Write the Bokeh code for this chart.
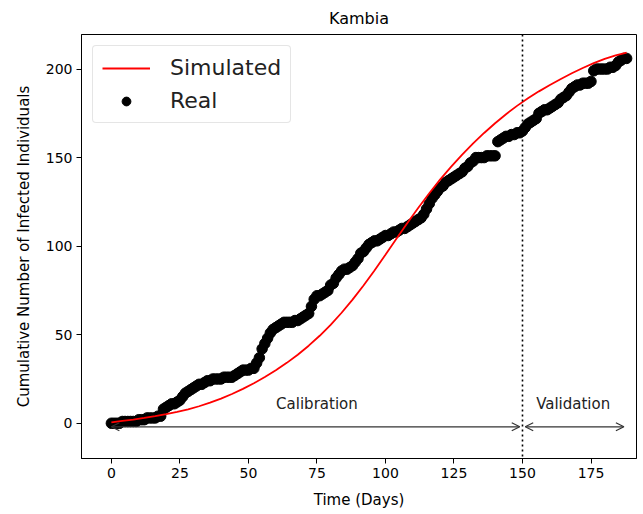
from bokeh.plotting import figure
from bokeh.models import (Range1d, Span, Arrow, OpenHead, Label, Legend, LegendItem,
                          FixedTicker, ColumnDataSource)
from bokeh.embed import file_html
from bokeh.resources import INLINE

# ---------------- data ----------------
real_days = list(range(0, 189))
real_cases = [
    0, 0, 0, 0, 1, 1, 1, 1, 1, 1,
    2, 2, 2, 3, 3, 3, 3, 4, 4, 8,
    9, 10, 11, 11, 12, 13, 15, 17, 18, 19,
    20, 21, 22, 22, 23, 24, 24, 25, 25, 25,
    25, 26, 26, 26, 26, 27, 28, 29, 30, 30,
    30, 31, 31, 34, 37, 42, 45, 48, 51, 53,
    54, 55, 56, 57, 57, 57, 57, 58, 58, 59,
    60, 61, 62, 66, 70, 72, 72, 73, 74, 75,
    78, 79, 82, 84, 86, 87, 87, 88, 89, 91,
    93, 96, 97, 99, 101, 102, 103, 103, 104, 105,
    106, 106, 107, 108, 108, 109, 110, 110, 111, 112,
    113, 114, 115, 116, 118, 121, 124, 127, 129, 131,
    133, 134, 136, 137, 138, 139, 140, 141, 142, 144,
    145, 147, 148, 150, 150, 150, 150, 151, 151, 151,
    151, 159, 160, 161, 162, 162, 163, 163, 164, 164,
    165, 167, 169, 170, 171, 172, 175, 176, 177, 177,
    178, 179, 180, 181, 183, 184, 185, 187, 189, 190,
    191, 191, 192, 192, 192, 193, 199, 200, 200, 200,
    200, 200, 201, 201, 202, 204, 205, 206, 206,
]

sim_days = list(range(0, 189, 4))
sim_cases = [
    0.5, 1.3, 2.1, 3.0, 4.0, 5.1, 6.4, 7.9, 9.6, 11.6,
    13.9, 16.5, 19.4, 22.6, 26.1, 29.9, 34.1, 38.7, 43.8, 49.4,
    55.6, 62.4, 69.8, 77.8, 86.3, 95.2, 104.2, 113.1, 121.7, 129.9,
    137.7, 144.9, 151.7, 158.0, 163.9, 169.4, 174.5, 179.2, 183.5, 187.4,
    191.0, 194.4, 197.6, 200.6, 203.3, 205.7, 207.7, 209.3,
]

split_day = 150
calib_arrow = [0, 149]      # start/end day of calibration arrow
valid_arrow = [151, 187]    # start/end day of validation arrow
arrow_level = -2
phase_labels = ["Calibration", "Validation"]
phase_label_level = 10.7

x_ticks = [0, 25, 50, 75, 100, 125, 150, 175]
y_ticks = [0, 50, 100, 150, 200]

FONT = "DejaVu Sans"

# ---------------- figure ----------------
p = figure(width=638, height=512, output_backend="svg", toolbar_location=None,
           x_range=Range1d(-10.9, 191.6), y_range=Range1d(-19.9, 219.5),
           min_border_left=81, min_border_right=2, min_border_top=33,
           min_border_bottom=54)

p.title.text = "Kambia"
p.title.align = "center"
p.title.text_font = FONT
p.title.text_font_size = "16px"
p.title.text_font_style = "normal"
p.title.text_color = "black"
p.title.standoff = 13

p.xgrid.visible = False
p.ygrid.visible = False
p.outline_line_color = "black"
p.outline_line_width = 1
p.background_fill_color = "white"
p.border_fill_color = "white"

for ax in (p.xaxis[0], p.yaxis[0]):
    ax.axis_line_color = "black"
    ax.major_tick_line_color = "black"
    ax.major_tick_out = 5
    ax.major_tick_in = 0
    ax.minor_tick_line_color = None
    ax.major_label_text_font = FONT
    ax.major_label_text_font_size = "14px"
    ax.major_label_text_color = "black"
    ax.axis_label_text_font = FONT
    ax.axis_label_text_font_size = "15px"
    ax.axis_label_text_font_style = "normal"
    ax.axis_label_text_color = "black"

p.xaxis.ticker = FixedTicker(ticks=x_ticks)
p.yaxis.ticker = FixedTicker(ticks=y_ticks)
p.xaxis.axis_label = "Time (Days)"
p.yaxis.axis_label = "Cumulative Number of Infected Individuals"
p.xaxis.axis_label_standoff = 10
p.yaxis.axis_label_standoff = 10
p.xaxis.major_label_standoff = 4
p.yaxis.major_label_standoff = 4

real_src = ColumnDataSource(dict(x=real_days, y=real_cases))
sim_src = ColumnDataSource(dict(x=sim_days, y=sim_cases))

r_real = p.scatter("x", "y", source=real_src, size=10.5, color="black")
r_sim = p.line("x", "y", source=sim_src, line_color="red", line_width=1.8)

p.add_layout(Span(location=split_day, dimension="height", line_color="black",
                  line_width=1.6, line_dash="2 3"))

for seg in (calib_arrow, valid_arrow):
    p.add_layout(Arrow(x_start=seg[0], y_start=arrow_level, x_end=seg[1], y_end=arrow_level,
                       line_color="#333333", line_width=1.2,
                       start=OpenHead(size=8, line_color="#333333", line_width=1.2),
                       end=OpenHead(size=8, line_color="#333333", line_width=1.2)))

label_x = [(calib_arrow[0] + split_day) / 2, (split_day + valid_arrow[1]) / 2]
for txt, lx in zip(phase_labels, label_x):
    p.add_layout(Label(x=lx, y=phase_label_level, text=txt, text_align="center",
                       text_baseline="middle", text_font=FONT, text_font_size="15px",
                       text_color="#222222"))

legend = Legend(items=[LegendItem(label="Simulated", renderers=[r_sim]),
                       LegendItem(label="Real", renderers=[r_real])],
                location="top_left")
legend.label_text_font = FONT
legend.label_text_font_size = "22px"
legend.label_text_color = "#222222"
legend.glyph_width = 48
legend.glyph_height = 22
legend.label_height = 22
legend.label_standoff = 20
legend.spacing = 8
legend.padding = 9
legend.margin = 11
legend.border_line_color = "#cccccc"
legend.border_line_width = 1
legend.background_fill_alpha = 0.8
try:
    legend.border_radius = 4
except Exception:
    pass
p.add_layout(legend)

open("out.html", "w").write(file_html(p, INLINE))
